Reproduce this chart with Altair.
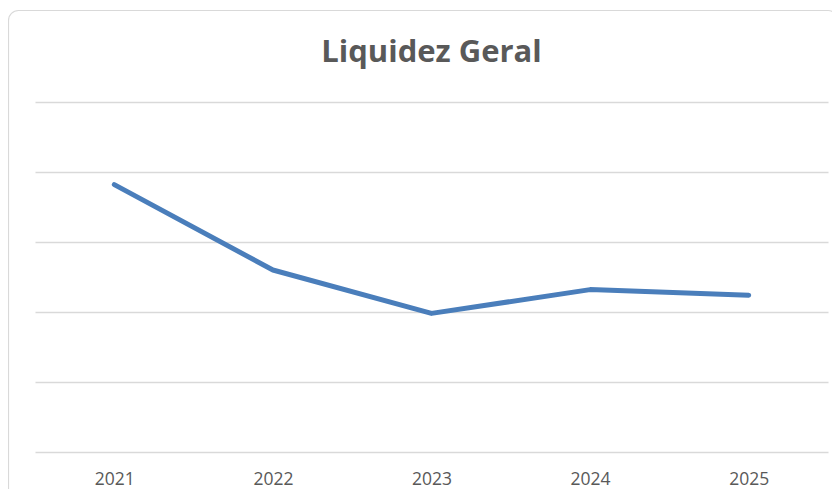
import altair as alt
import pandas as pd

years = ["2021", "2022", "2023", "2024", "2025"]
liquidez = [1.91, 1.30, 0.99, 1.16, 1.12]
grid_values = [0, 0.5, 1.0, 1.5, 2.0, 2.5]
title_text = "Liquidez Geral"

df = pd.DataFrame({"ano": years, "valor": liquidez})

border = alt.Chart(pd.DataFrame({"k": [0]})).mark_rect(
    fillOpacity=0, stroke="#d9d9d9", strokeWidth=1.2, cornerRadius=10, clip=False
).encode(
    x=alt.value(-26.5), x2=alt.value(803), y=alt.value(-91.5), y2=alt.value(398)
)

title = alt.Chart(pd.DataFrame({"t": [title_text]})).mark_text(
    font="Open Sans", fontSize=31, fontWeight="bold", color="#595959",
    align="center", baseline="alphabetic"
).encode(text="t:N", x=alt.value(396.5), y=alt.value(-40))

line = alt.Chart(df).mark_line(
    color="#4a7ebb", strokeWidth=5, strokeCap="round", strokeJoin="round"
).encode(
    x=alt.X("ano:O", sort=years, title=None,
            axis=alt.Axis(labelAngle=0, ticks=False, domain=False, grid=False,
                          labelColor="#595959", labelFont="Open Sans", labelFontSize=17.5,
                          labelPadding=18)),
    y=alt.Y("valor:Q", title=None, scale=alt.Scale(domain=[0, 2.5], nice=False),
            axis=alt.Axis(values=grid_values, labels=False, ticks=False, domain=False,
                          grid=True, gridColor="#d9d9d9", gridWidth=1.3)),
)

chart = alt.layer(border, title, line).properties(
    width=793, height=350,
    autosize=alt.AutoSizeParams(type="none"),
    padding={"left": 27, "top": 94, "right": 4, "bottom": 37},
).configure_view(strokeWidth=0)

chart.save("out.html", embed_options={"renderer": "svg", "actions": False})
